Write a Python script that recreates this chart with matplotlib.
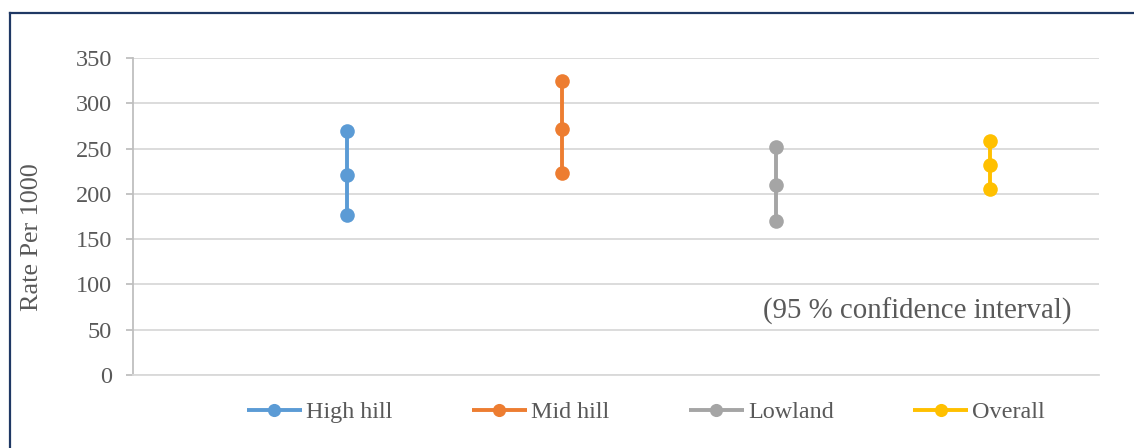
import matplotlib.pyplot as plt
from matplotlib.lines import Line2D

plt.rcParams['font.family'] = ['Liberation Serif', 'DejaVu Serif']

regions = ["High hill", "Mid hill", "Lowland", "Overall"]
lower = [176.7, 222.6, 169.6, 205.0]
rate = [220.4, 271.3, 209.8, 231.9]
upper = [269.8, 324.4, 251.4, 258.1]
colors = ["#5B9BD5", "#ED7D31", "#A5A5A5", "#FFC000"]
yticks = [0, 50, 100, 150, 200, 250, 300, 350]

text_color = "#595959"
grid_color = "#D9D9D9"

fig = plt.figure(figsize=(11.34, 4.48), dpi=100)
ax = fig.add_axes([133 / 1134, 1 - 375 / 448, 966 / 1134, 317 / 448])

for i, (name, lo, mid, hi, c) in enumerate(zip(regions, lower, rate, upper, colors)):
    ax.plot([i + 1] * 3, [lo, mid, hi], color=c, lw=2.8, marker="o",
            markersize=10.5, markeredgewidth=0, label=name, solid_capstyle="butt")

ax.set_xlim(0, 4.507)
ax.set_ylim(0, 350)
ax.set_yticks(yticks)
ax.set_xticks([])
ax.yaxis.grid(True, color=grid_color, lw=1.3)
ax.set_axisbelow(True)

for s in ["top", "right"]:
    ax.spines[s].set_visible(False)
ax.spines["bottom"].set_color(grid_color)
ax.spines["bottom"].set_linewidth(1.3)
ax.spines["left"].set_color("#BFBFBF")
ax.spines["left"].set_linewidth(1.3)
ax.tick_params(axis="y", colors="#BFBFBF", length=5, width=1.3, pad=10,
               labelsize=17.5, labelcolor=text_color)

ax.set_ylabel("Rate Per 1000", fontsize=18.8, color=text_color)
ax.yaxis.set_label_coords(-0.093, 0.435)

ax.text(4.378, 70.8, "(95 % confidence interval)", ha="right", va="center",
        fontsize=20.8, color=text_color)

fig.legend(loc="center", bbox_to_anchor=(646 / 1134, 1 - 412 / 448), ncol=4,
           frameon=False, fontsize=17.4, labelcolor=text_color,
           handlelength=2.27, handletextpad=0.17, columnspacing=3.3,
           markerscale=0.9)

# outer chart border (top and left edges)
border = "#1F3864"
fig.add_artist(Line2D([10 / 1134, 1], [1 - 13 / 448] * 2, color=border, lw=1.6,
                      transform=fig.transFigure))
fig.add_artist(Line2D([10 / 1134] * 2, [0, 1 - 13 / 448], color=border, lw=1.6,
                      transform=fig.transFigure))

fig.savefig("out.png", dpi=100)
